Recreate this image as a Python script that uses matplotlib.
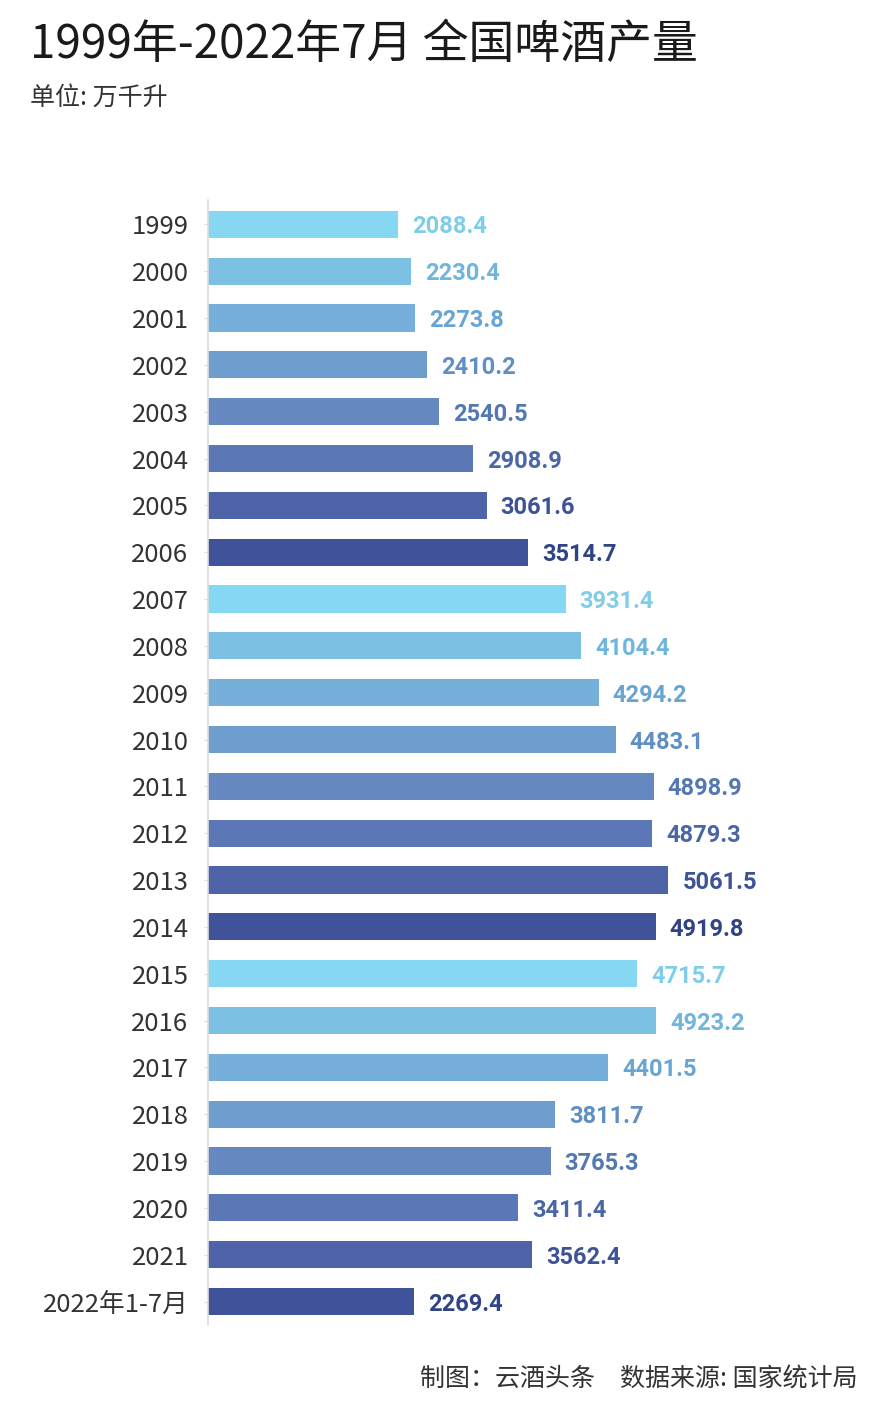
import matplotlib
matplotlib.use("Agg")
import matplotlib.pyplot as plt
from matplotlib import font_manager

plt.rcParams['font.family'] = ['Noto Sans CJK SC', 'DejaVu Sans']

categories = ["1999", "2000", "2001", "2002", "2003", "2004", "2005", "2006",
              "2007", "2008", "2009", "2010", "2011", "2012", "2013", "2014",
              "2015", "2016", "2017", "2018", "2019", "2020", "2021", "2022年1-7月"]
values = [2088.4, 2230.4, 2273.8, 2410.2, 2540.5, 2908.9, 3061.6, 3514.7,
          3931.4, 4104.4, 4294.2, 4483.1, 4898.9, 4879.3, 5061.5, 4919.8,
          4715.7, 4923.2, 4401.5, 3811.7, 3765.3, 3411.4, 3562.4, 2269.4]

bar_palette = ["#86d7f1", "#7cc0e3", "#76afda", "#6e9ecd",
               "#6688c0", "#5b77b6", "#4f63a8", "#3f529a"]
label_palette = ["#80cdea", "#70b5dc", "#69a5d2", "#5f8fc3",
                 "#5478b2", "#4a66a5", "#3d5395", "#304385"]

title = "1999年-2022年7月 全国啤酒产量"
subtitle = "单位: 万千升"
footer = "制图：云酒头条\u3000数据来源: 国家统计局"

available = {f.name for f in font_manager.fontManager.ttflist}
num_family = ['Liberation Sans Narrow'] if 'Liberation Sans Narrow' in available else ['Roboto']

W, H = 892, 1416
fig = plt.figure(figsize=(W / 100, H / 100), dpi=100)
fig.patch.set_facecolor("white")

ax_left, ax_right = 208, 880
ax_top, ax_bottom = 200, 1325
ax = fig.add_axes([ax_left / W, 1 - ax_bottom / H,
                   (ax_right - ax_left) / W, (ax_bottom - ax_top) / H])

n = len(values)
ypos = list(range(n))
colors = [bar_palette[i % 8] for i in range(n)]
lcolors = [label_palette[i % 8] for i in range(n)]

scale = 190.0 / 2088.4  # px per unit
xmax = (ax_right - ax_left) / scale

ax.barh(ypos, values, height=0.58, color=colors, zorder=2)
ax.set_xlim(0, xmax)
ax.set_ylim(n - 0.5, -0.52)

gap = 14 / scale
for y, v, c in zip(ypos, values, lcolors):
    ax.text(v + gap, y, f"{v:.1f}", ha="left", va="center_baseline",
            fontsize=20 if num_family[0].endswith('Narrow') else 17,
            fontweight="bold", color=c, family=num_family)

ax.set_yticks(ypos)
ax.set_yticklabels(categories, fontsize=18.5, color="#333333")
ax.tick_params(axis="y", length=3, color="#dddddd", pad=11)
ax.set_xticks([])
for s in ["top", "right", "bottom"]:
    ax.spines[s].set_visible(False)
ax.spines["left"].set_color("#dcdcdc")
ax.spines["left"].set_linewidth(1.2)
ax.set_facecolor("none")

fig.text(30 / W, 1 - 45 / H, title, fontsize=33, color="#1a1a1a",
         ha="left", va="center")
fig.text(30 / W, 1 - 98 / H, subtitle, fontsize=18, color="#333333",
         ha="left", va="center")
fig.text(858 / W, 1 - 1379 / H, footer, fontsize=18, color="#333333",
         ha="right", va="center")

fig.savefig("out.png", dpi=100, facecolor="white")
